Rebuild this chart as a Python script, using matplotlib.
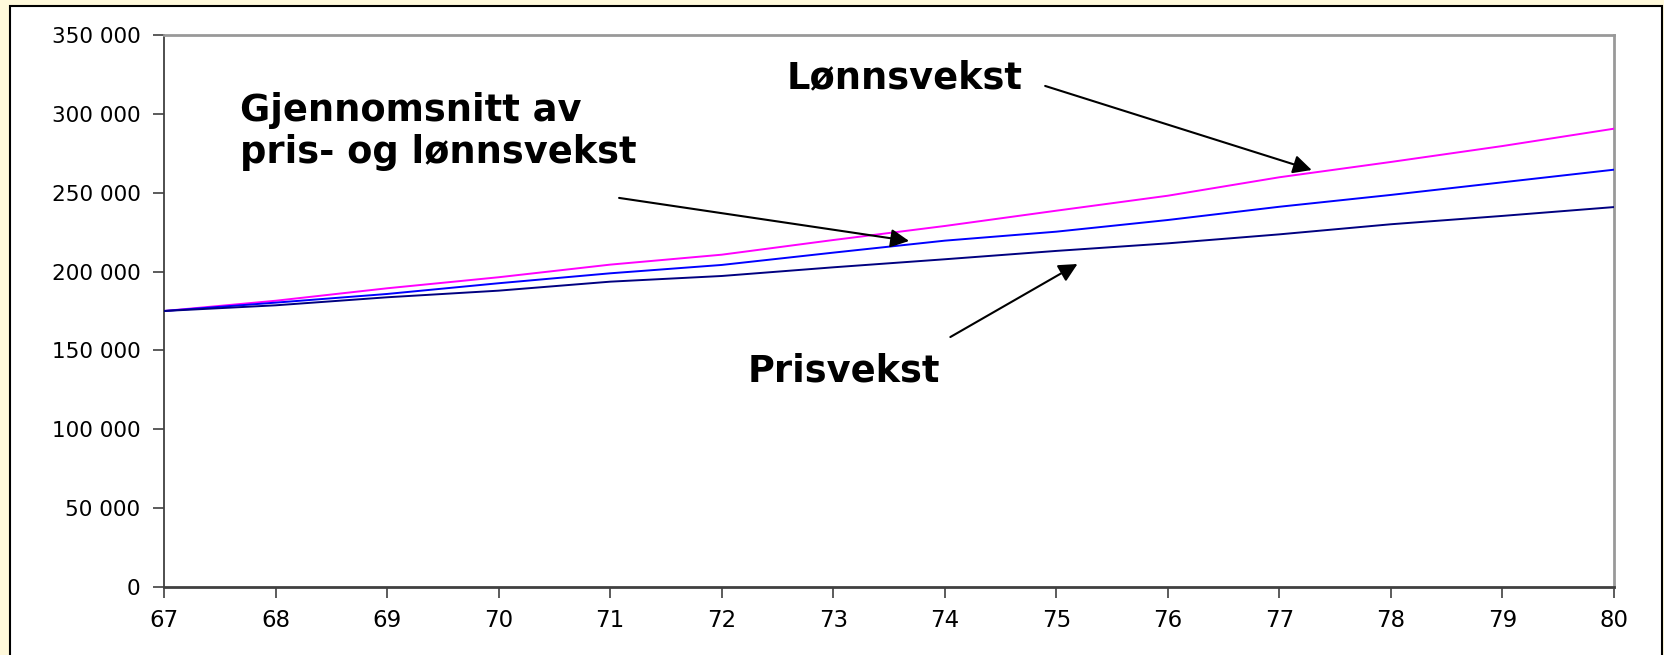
import numpy as np
import matplotlib
matplotlib.use("Agg")
import matplotlib.pyplot as plt
from matplotlib.patches import Rectangle
from matplotlib.ticker import FuncFormatter

# Data
years = [67, 68, 69, 70, 71, 72, 73, 74, 75, 76, 77, 78, 79, 80]
lonnsvekst = [175000, 181500, 189400, 196400, 204400, 210700, 220000,
              228900, 238600, 248100, 259800, 269500, 279600, 290600]
snitt = [175000, 180300, 185800, 192600, 198900, 204200, 212000,
         219600, 225300, 232700, 241100, 248600, 256600, 264600]
prisvekst = [175000, 178600, 183700, 187900, 193600, 197200, 202700,
             207800, 213100, 217900, 223600, 230000, 235300, 240900]
y_ticks = [0, 50000, 100000, 150000, 200000, 250000, 300000, 350000]

W, H = 1665, 655
fig = plt.figure(figsize=(W / 100, H / 100), dpi=100)
fig.patch.set_facecolor("#FFF9DB")

# white frame with black border (bottom edge falls outside the image)
frame = Rectangle((10 / W, -0.05), (1662 - 10) / W, 1.05 - 6 / H,
                  transform=fig.transFigure, facecolor="white",
                  edgecolor="black", lw=1.5, zorder=-1)
fig.patches.append(frame)

ax = fig.add_axes([164 / W, 1 - 587 / H, (1614 - 164) / W, (587 - 35) / H])
ax.set_zorder(1)
ax.set_facecolor("white")

ax.plot(years, lonnsvekst, color="#FF00FF", lw=1.4, zorder=3)
ax.plot(years, snitt, color="#0000FF", lw=1.4, zorder=3)
ax.plot(years, prisvekst, color="#000080", lw=1.4, zorder=3)

ax.set_xlim(67, 80)
ax.set_ylim(0, 350000)
ax.set_xticks(years)
ax.set_yticks(y_ticks)
ax.yaxis.set_major_formatter(FuncFormatter(lambda v, p: f"{int(v):,}".replace(",", " ")))
ax.tick_params(axis="both", direction="out", length=8, width=1.2,
               colors="#404040", labelcolor="black")
ax.tick_params(axis="y", labelsize=15.5, pad=9)
ax.tick_params(axis="x", labelsize=16.5, pad=8)
for lab in ax.get_xticklabels() + ax.get_yticklabels():
    lab.set_fontfamily("DejaVu Sans")

for side in ["top", "right"]:
    ax.spines[side].set_color("#999999")
    ax.spines[side].set_linewidth(2)
ax.spines["left"].set_color("#404040")
ax.spines["left"].set_linewidth(1.3)
ax.spines["bottom"].set_color("#404040")
ax.spines["bottom"].set_linewidth(2)

txt = dict(fontsize=26.5, fontweight="bold", family="DejaVu Sans",
           color="black", va="baseline", ha="left", zorder=5)
arw = dict(arrowstyle="-|>", color="black", lw=1.5, mutation_scale=28,
           shrinkA=0, shrinkB=0)

ax.text(72.58, 316400, "Lønnsvekst", **txt)
ax.annotate("", xy=(77.29, 264400), xytext=(74.90, 317700), arrowprops=arw)

ax.text(67.68, 295500, "Gjennomsnitt av", **txt)
ax.text(67.68, 268800, "pris- og lønnsvekst", **txt)
ax.annotate("", xy=(73.68, 219400), xytext=(71.08, 246700), arrowprops=arw)

ax.text(72.23, 130000, "Prisvekst", **txt)
ax.annotate("", xy=(75.19, 204800), xytext=(74.05, 158500), arrowprops=arw)

fig.savefig("out.png", dpi=100, facecolor=fig.get_facecolor())
